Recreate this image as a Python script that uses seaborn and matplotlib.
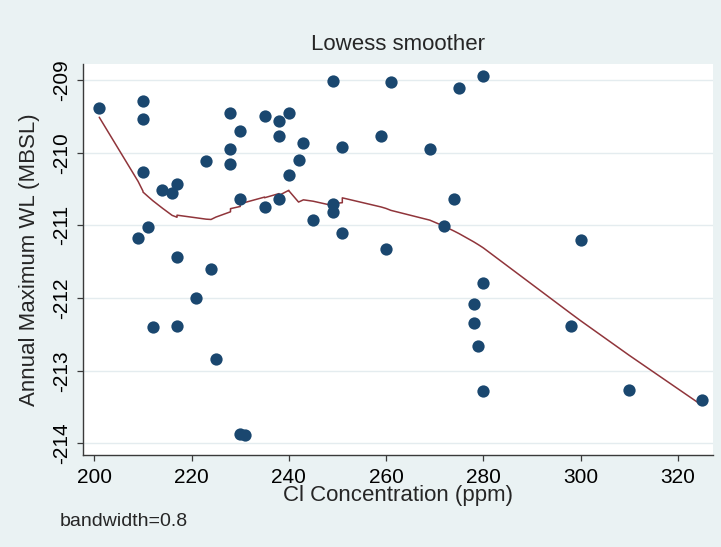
import numpy as np
import pandas as pd
import matplotlib
matplotlib.use("Agg")
import matplotlib.pyplot as plt
import seaborn as sns

# ---- data ----
cl_ppm = [201, 209, 210, 210, 210, 211, 212, 214, 216, 217, 217, 217, 221, 223, 224, 225,
          228, 228, 228, 230, 230, 230, 231, 235, 235, 238, 238, 238, 240, 240, 242, 243,
          245, 249, 249, 249, 251, 251, 259, 260, 261, 269, 272, 274, 275, 278, 278, 279,
          280, 280, 280, 298, 300, 310, 325]
wl_mbsl = [-209.39, -211.18, -209.29, -209.54, -210.27, -211.02, -212.40, -210.52, -210.56,
           -210.43, -211.44, -212.39, -212.00, -210.12, -211.60, -212.84,
           -209.46, -209.95, -210.15, -209.70, -210.64, -213.87, -213.89, -209.50, -210.75,
           -209.56, -209.77, -210.64, -209.45, -210.31, -210.10, -209.87,
           -210.92, -209.01, -210.70, -210.81, -209.92, -211.10, -209.77, -211.33, -209.03,
           -209.95, -211.01, -210.64, -209.11, -212.08, -212.35, -212.66,
           -208.94, -211.80, -213.28, -212.38, -211.20, -213.27, -213.40]
bandwidth = 0.8
x_ticks = [200, 220, 240, 260, 280, 300, 320]
y_ticks = [-214, -213, -212, -211, -210, -209]

title_text = "Lowess smoother"
x_label = "Cl Concentration (ppm)"
y_label = "Annual Maximum WL (MBSL)"
note_text = "bandwidth=0.8"


def stata_lowess(x, y, bw):
    """Running-line lowess with tricube weights (Stata's default algorithm)."""
    n = len(x)
    k = int(np.floor((n * bw - 0.5) / 2))
    out = np.empty(n)
    for i in range(n):
        lo = max(0, i - k)
        hi = min(n - 1, i + k)
        xs = x[lo:hi + 1]
        ys = y[lo:hi + 1]
        delta = 1.0001 * max(x[hi] - x[i], x[i] - x[lo])
        w = (1 - (np.abs(xs - x[i]) / delta) ** 3) ** 3
        sw = w.sum()
        xm = (w * xs).sum() / sw
        ym = (w * ys).sum() / sw
        sxx = (w * (xs - xm) ** 2).sum()
        b = (w * (xs - xm) * (ys - ym)).sum() / sxx if sxx > 0 else 0.0
        out[i] = ym + b * (x[i] - xm)
    return out


df = pd.DataFrame({"cl": cl_ppm, "wl": wl_mbsl})
df = df.sort_values(["cl", "wl"], kind="mergesort").reset_index(drop=True)
df["smooth"] = stata_lowess(df["cl"].to_numpy(float), df["wl"].to_numpy(float), bandwidth)

sns.set_style("white")
plt.rcParams["font.family"] = ["Liberation Sans", "DejaVu Sans"]
plt.rcParams["axes.unicode_minus"] = False

bg = "#eaf2f3"
fig = plt.figure(figsize=(7.21, 5.47), dpi=100, facecolor=bg)
ax = fig.add_axes([82.7 / 721, 1 - 455 / 547, (713 - 82.7) / 721, (455 - 64) / 547])
ax.set_facecolor("white")

for yt in y_ticks:
    ax.axhline(yt, color="#e4ecef", lw=1.0, zorder=0)

sns.scatterplot(data=df, x="cl", y="wl", ax=ax, color="#1a476f", s=78,
                linewidth=0, zorder=3, legend=False)
sns.lineplot(data=df, x="cl", y="smooth", ax=ax, color="#90353b", lw=1.1,
             sort=False, estimator=None, zorder=2, legend=False)

ax.set_xlim(197.6, 327.25)
ax.set_ylim(-214.16, -208.78)
ax.set_xticks(x_ticks)
ax.set_yticks(y_ticks)

for s in ["top", "right"]:
    ax.spines[s].set_visible(False)
for s in ["left", "bottom"]:
    ax.spines[s].set_color("#3a3a3a")
    ax.spines[s].set_linewidth(1.0)

ax.tick_params(axis="both", which="major", direction="out", length=4.6, width=0.9,
               color="#3a3a3a", labelsize=15, labelcolor="black")
ax.tick_params(axis="x", pad=4.6, bottom=True)
ax.tick_params(axis="y", pad=3.8, left=True)
for lab in ax.get_yticklabels():
    lab.set_rotation(90)
    lab.set_va("center")
    lab.set_ha("right")

ax.set_xlabel(x_label, fontsize=16)
ax.set_ylabel(y_label, fontsize=16)
ax.xaxis.label.set_va("center")
ax.yaxis.label.set_va("center")
ax.xaxis.set_label_coords(0.5, -(496 - 455) / 391)
ax.yaxis.set_label_coords(-(82.7 - 29.6) / 630.3, 0.5)

ax.set_title(title_text, fontsize=16, y=1 + (64 - 45) / 391, va="center", pad=0)
fig.text(60 / 721, 1 - 522 / 547, note_text, fontsize=14, ha="left", va="center")

fig.savefig("out.png", dpi=100, facecolor=bg)
